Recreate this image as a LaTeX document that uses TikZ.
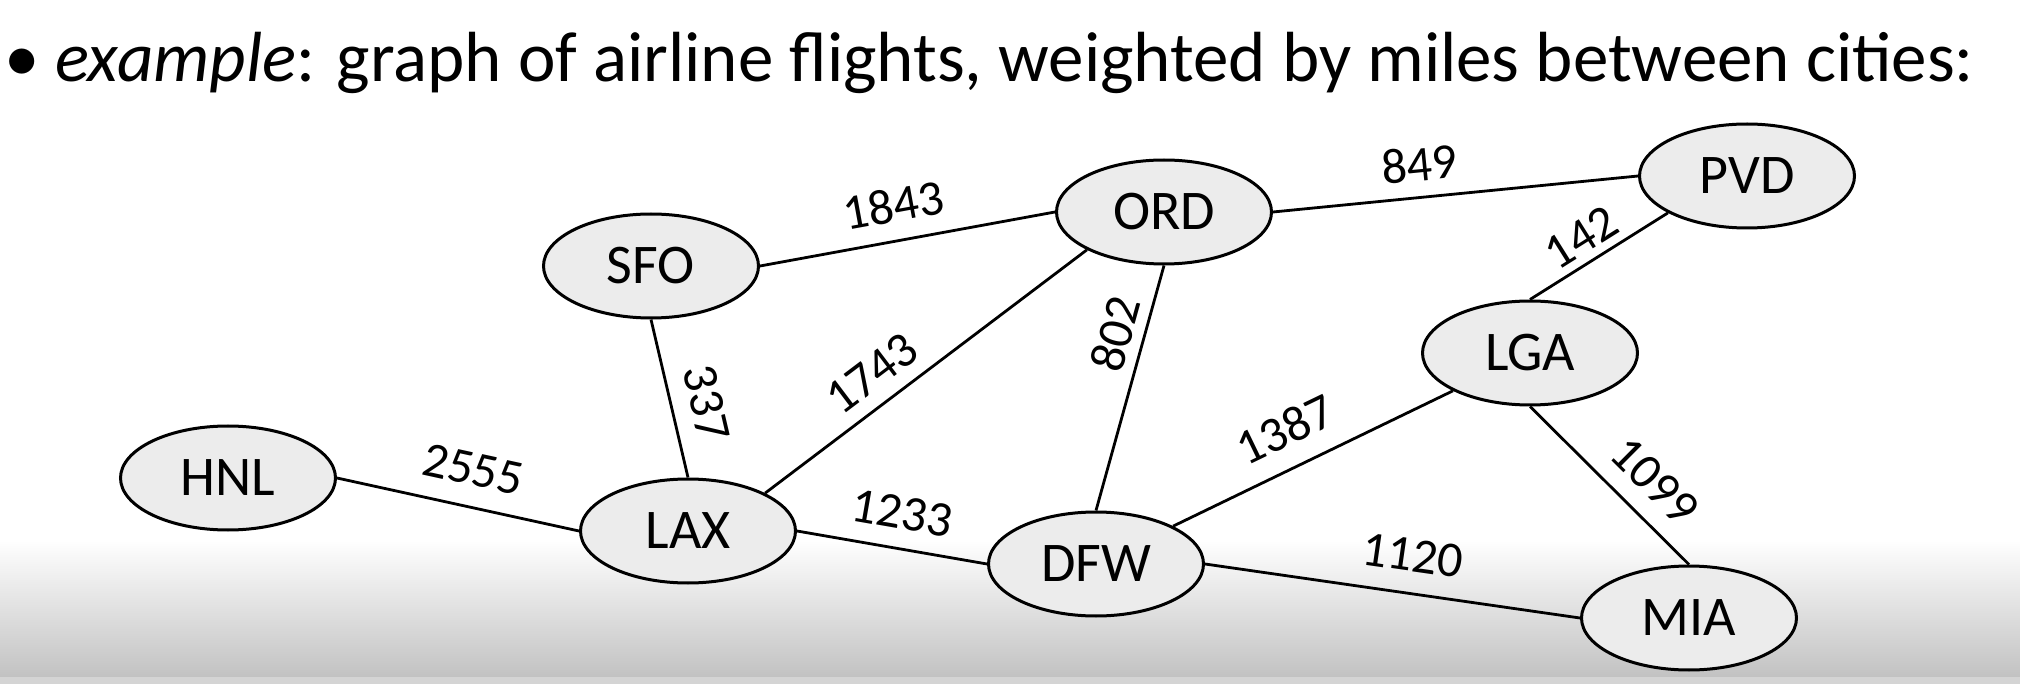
\documentclass[tikz,border=0pt]{standalone}
\usepackage{fontspec}
\setmainfont{Carlito}
\usetikzlibrary{shapes.geometric}

\definecolor{cityfill}{RGB}{236,236,236}
\definecolor{shadow}{RGB}{194,194,194}

\tikzset{
  city/.style={ellipse, draw, line width=1.5pt, fill=cityfill, inner sep=0pt,
    minimum width=107.5pt, minimum height=52pt, font=\fontsize{28}{32}\selectfont},
  flight/.style={line width=1.4pt},
  miles/.style={sloped, inner sep=2pt, font=\fontsize{25}{30}\selectfont}
}

\begin{document}
\begin{tikzpicture}[x=0.5pt,y=-0.5pt]
\path[use as bounding box] (0,0) rectangle (2020,684);

%Background
\fill[white] (0,0) rectangle (2020,684);
\shade[top color=white, bottom color=shadow] (0,540) rectangle (2020,677);
\fill[shadow!70] (0,677) rectangle (2020,684);

% Text Node
\node [anchor=base west, inner sep=0pt, font=\fontsize{35.5}{40}\selectfont] (dot) at (4,82) {\textbullet};
% Text Node
\node [anchor=base west, inner sep=0pt, font=\fontsize{35.5}{40}\selectfont] (title) at (55,82)
  {\textit{example}: graph of airline flights, weighted by miles between cities:};

%Shape: Ellipse
\node [city] (HNL) at (228,478) {HNL};
\node [city] (SFO) at (651,266) {SFO};
\node [city] (LAX) at (688,531) {LAX};
\node [city] (ORD) at (1164,212) {ORD};
\node [city] (DFW) at (1096,564) {DFW};
\node [city] (PVD) at (1747,176) {PVD};
\node [city] (LGA) at (1530,353) {LGA};
\node [city] (MIA) at (1689,618) {MIA};

%Straight Lines
\draw [flight] (HNL.east) -- node [miles, above=8pt, pos=0.53] {2555} (LAX.west);
\draw [flight] (SFO.east) -- node [miles, above=6.6pt, pos=0.475] {1843} (ORD.west);
\draw [flight] (SFO.south) -- node [miles, above=6.7pt, pos=0.58] {337} (LAX.north);
\draw [flight] (LAX.north east) -- node [miles, above=4.6pt, pos=0.39] {1743} (ORD.south west);
\draw [flight] (LAX.east) -- node [miles, above=6.9pt, pos=0.52] {1233} (DFW.west);
\draw [flight] (ORD.east) -- node [miles, above=5.3pt, pos=0.41] {849} (PVD.west);
\draw [flight] (DFW.north) -- node [miles, above=3pt, pos=0.69] {802} (ORD.south);
\draw [flight] (LGA.north) -- node [miles, above=2pt, pos=0.47] {142} (PVD.205);
\draw [flight] (DFW.north east) -- node [miles, above=7.7pt, pos=0.46] {1387} (LGA.south west);
\draw [flight] (LGA.south) -- node [miles, above=6.7pt, pos=0.63] {1099} (MIA.north);
\draw [flight] (DFW.east) -- node [miles, above=8.2pt, pos=0.54] {1120} (MIA.west);

\end{tikzpicture}
\end{document}
